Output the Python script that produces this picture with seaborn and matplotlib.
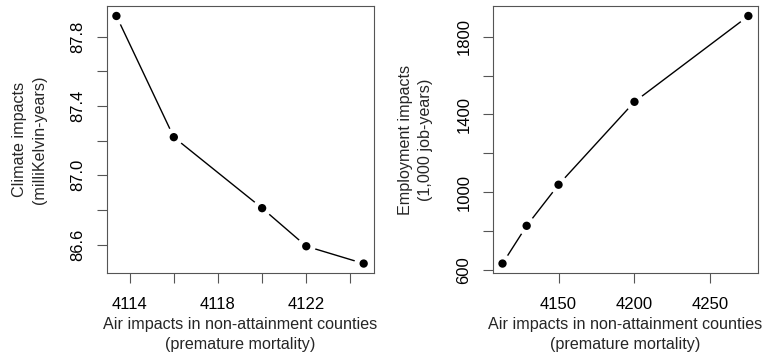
import matplotlib
matplotlib.use("Agg")
import matplotlib.pyplot as plt
import numpy as np
import pandas as pd
import seaborn as sns

# Trade-off frontiers: premature mortality vs climate / employment impacts
air_climate = [4113.4, 4116.0, 4120.0, 4122.0, 4124.6]
climate = [87.92, 87.22, 86.81, 86.59, 86.49]

air_jobs = [4113.1, 4129.0, 4150.0, 4200.0, 4275.0]
jobs = [634, 828, 1039, 1465, 1906]

climate_xticks = [4114, 4116, 4118, 4120, 4122, 4124]
climate_xlabels = ["4114", "", "4118", "", "4122", ""]
climate_yticks = [86.6, 86.8, 87.0, 87.2, 87.4, 87.6, 87.8]
climate_ylabels = ["86.6", "", "87.0", "", "87.4", "", "87.8"]

jobs_xticks = [4150, 4200, 4250]
jobs_xlabels = ["4150", "4200", "4250"]
jobs_yticks = [600, 800, 1000, 1200, 1400, 1600, 1800]
jobs_ylabels = ["600", "", "1000", "", "1400", "", "1800"]

xlabel = "Air impacts in non-attainment counties\n(premature mortality)"
climate_ylabel = "Climate impacts\n(milliKelvin-years)"
jobs_ylabel = "Employment impacts\n(1,000 job-years)"

sns.set_theme(style="white")
plt.rcParams["font.family"] = ["Liberation Sans", "DejaVu Sans"]
plt.rcParams["font.size"] = 12

DPI = 100
fig = plt.figure(figsize=(7.63, 3.57), dpi=DPI)
ax1 = fig.add_axes([0.1396, 0.234, 0.350, 0.749])
ax2 = fig.add_axes([0.6457, 0.234, 0.348, 0.749])


def padded(vals, frac=0.04):
    lo, hi = min(vals), max(vals)
    d = (hi - lo) * frac
    return lo - d, hi + d


def panel(ax, x, y, xt, xl, yt, yl, ylab):
    df = pd.DataFrame({"x": x, "y": y})
    sns.lineplot(data=df, x="x", y="y", ax=ax, sort=False, estimator=None,
                 color="black", linewidth=1.0, zorder=1)
    # white halo leaves a gap in the line around each point
    sns.scatterplot(data=df, x="x", y="y", ax=ax, s=185, color="white",
                    edgecolor="none", linewidth=0, zorder=2)
    sns.scatterplot(data=df, x="x", y="y", ax=ax, s=36, color="black",
                    edgecolor="none", linewidth=0, zorder=3)
    ax.set_xlim(*padded(x))
    ax.set_ylim(*padded(y))
    ax.set_xticks(xt)
    ax.set_xticklabels(xl)
    ax.set_yticks(yt)
    ax.set_yticklabels(yl, rotation=90, va="center")
    ax.tick_params(axis="both", which="major", direction="out", length=7.2,
                   width=0.8, color="#555555", labelsize=12,
                   labelcolor="black", bottom=True, left=True)
    ax.tick_params(axis="x", pad=9.5)
    ax.tick_params(axis="y", pad=8)
    for sp in ax.spines.values():
        sp.set_visible(True)
        sp.set_color("#555555")
        sp.set_linewidth(0.8)
        sp.set_zorder(2.5)
    ax.set_xlabel(xlabel, fontsize=11.6, labelpad=4, linespacing=1.4)
    ax.set_ylabel(ylab, fontsize=11.6, labelpad=17, linespacing=1.4)
    ax.grid(False)


panel(ax1, air_climate, climate, climate_xticks, climate_xlabels,
      climate_yticks, climate_ylabels, climate_ylabel)
panel(ax2, air_jobs, jobs, jobs_xticks, jobs_xlabels,
      jobs_yticks, jobs_ylabels, jobs_ylabel)

fig.savefig("out.png", dpi=DPI, facecolor="white")
